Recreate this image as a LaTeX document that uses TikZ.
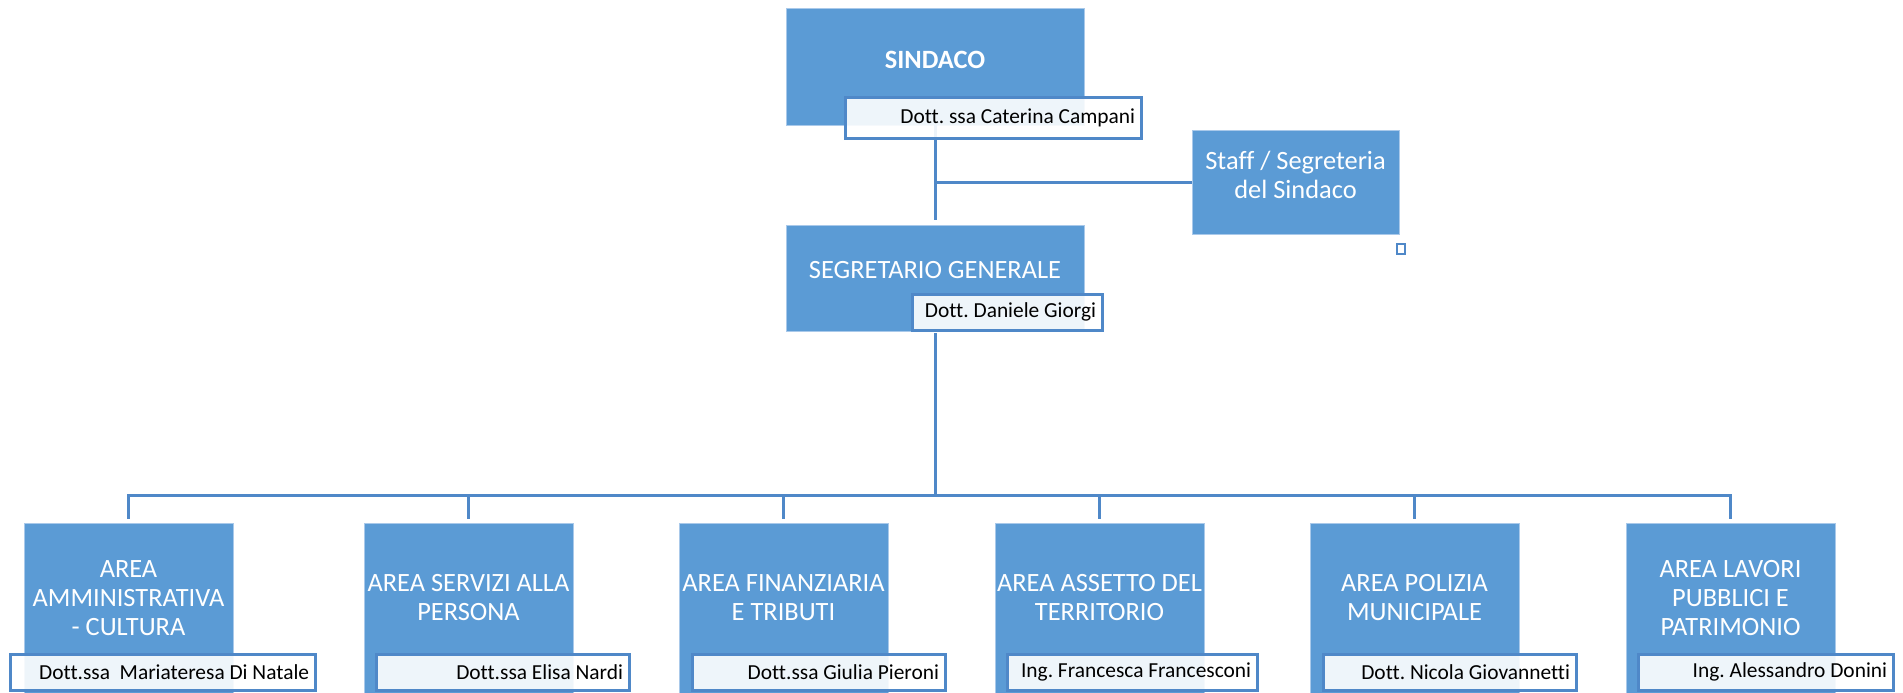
\documentclass[tikz,border=0pt]{standalone}
\usepackage{fontspec}
\setmainfont{Carlito}[Ligatures=NoCommon]
\frenchspacing
\definecolor{unitblue}{HTML}{5B9BD5}
\definecolor{linkblue}{HTML}{4F88C8}
\definecolor{edgeblue}{HTML}{A9C9EA}
\tikzset{
  unitbox/.style={fill=unitblue, draw=edgeblue, line width=0.4pt, inner sep=0pt},
  unittext/.style={text=white, font=\fontsize{13.2}{14.5}\selectfont, align=center, inner sep=0pt},
  namebox/.style={fill=white, fill opacity=0.9, draw=linkblue, line width=1.5pt, inner sep=0pt, minimum height=18pt},
  nametext/.style={text=black, font=\fontsize{10.7}{12}\selectfont, inner sep=0pt},
  link/.style={draw=linkblue, line width=1.5pt},
}
\begin{document}
\begin{tikzpicture}[x=0.5pt,y=-0.5pt]
        \clip (0,0) rectangle (1903,692);
        %% top boxes
        \node[unitbox, minimum width=149pt, minimum height=58.5pt] (sindaco) at (935,66.5) {};
        \node[unitbox, minimum width=103.5pt, minimum height=52pt] (staff) at (1295.5,182) {};
        \node[unitbox, minimum width=149pt, minimum height=53pt] (segretario) at (935,278) {};
        %% area boxes
        \foreach \n/\x in {1/128.5,2/468.5,3/783.5,4/1099.5,5/1414.5,6/1730.5}
            \node[unitbox, minimum width=104.5pt, minimum height=88.5pt] (area\n) at (\x,611.5) {};
        %% connectors
        \draw[link, shorten >=2.5pt] (sindaco.south) -- (segretario.north);
        \draw[link] (staff.west) -- (staff.west -| sindaco.south);
        \coordinate (bus) at (935,495);
        \draw[link, shorten <=1pt] (segretario.south) -- (bus);
        \draw[link, shorten <=2pt, shorten >=2pt] (area1.north) |- (bus) -| (area6.north);
        \foreach \n in {2,...,5}
            \draw[link, shorten >=2pt] (bus -| area\n.north) -- (area\n.north);
        %% small marker below the staff box
        \draw[linkblue, line width=1pt, fill=white] (1397,244) rectangle (1405,254);
        %% unit texts
        \node[unittext, font=\fontsize{13.2}{14.5}\selectfont\bfseries] (sindacotext) at (935,60) {SINDACO};
        \node[unittext] (stafftext) at (1295.5,175) {Staff / Segreteria\\del Sindaco};
        \node[unittext] (segretariotext) at (935,270) {SEGRETARIO GENERALE};
        \foreach \n/\x/\unit in {1/128.5/{AREA\\AMMINISTRATIVA\\- CULTURA},
                                 2/468.5/{AREA SERVIZI ALLA\\PERSONA},
                                 3/783.5/{AREA FINANZIARIA\\E TRIBUTI},
                                 4/1099.5/{AREA ASSETTO DEL\\TERRITORIO},
                                 5/1414.5/{AREA POLIZIA\\MUNICIPALE},
                                 6/1730.5/{AREA LAVORI\\PUBBLICI E\\PATRIMONIO}}
            \node[unittext] (areatext\n) at (\x,598) {\unit};
        %% name boxes
        \node[namebox, minimum width=148pt, minimum height=20.5pt] (sindaconame) at (993,117.5) {};
        \node[nametext, anchor=east] (sindacohead) at ([xshift=-3.5pt]sindaconame.east) {Dott. ssa Caterina Campani};
        \node[namebox, minimum width=95pt] (segretarioname) at (1007,312) {};
        \node[nametext, anchor=east] (segretariohead) at ([xshift=-3.5pt]segretarioname.east) {Dott. Daniele Giorgi};
        \foreach \n/\l/\r/\head in {1/10/315/{Dott.ssa~ Mariateresa Di Natale},
                                    2/376/629/{Dott.ssa Elisa Nardi},
                                    3/692/945/{Dott.ssa Giulia Pieroni},
                                    4/1007/1257/{Ing. Francesca Francesconi},
                                    5/1323/1576/{Dott. Nicola Giovannetti},
                                    6/1638/1893/{Ing. Alessandro Donini}}{
            \pgfmathsetmacro\c{(\l+\r)/2}
            \pgfmathsetmacro\w{(\r-\l)/2}
            \node[namebox, minimum width=\w pt] (areaname\n) at (\c,672) {};
            \node[nametext, anchor=east] (areahead\n) at ([xshift=-3.5pt]areaname\n.east) {\head};
        }
\end{tikzpicture}
\end{document}
